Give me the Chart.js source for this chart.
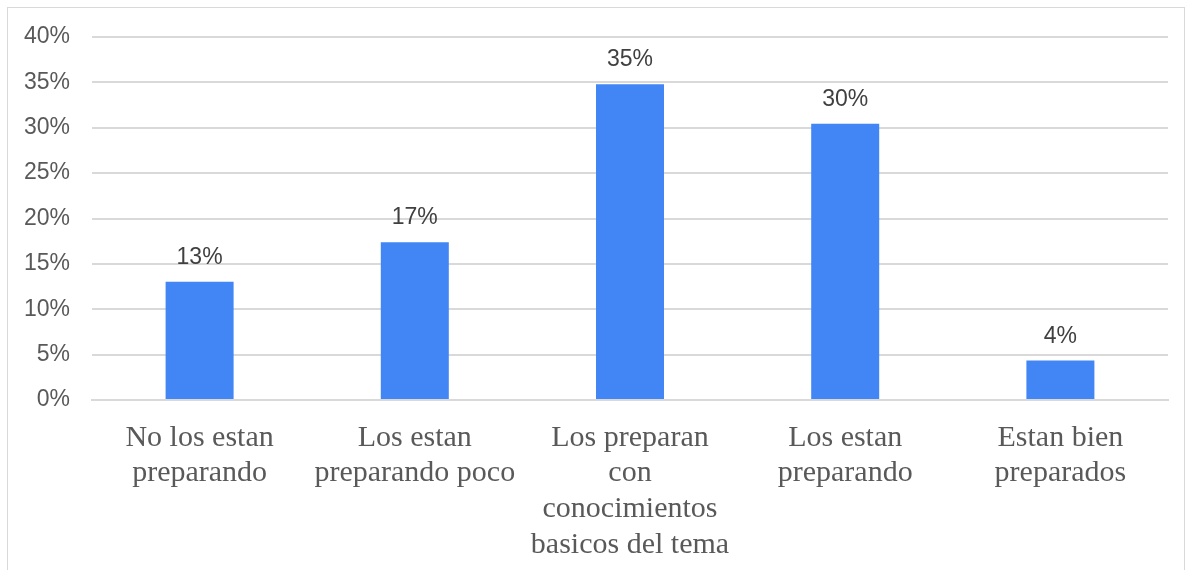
<!DOCTYPE html>
<html>
<head>
<meta charset="utf-8">
<script src="https://cdn.jsdelivr.net/npm/chart.js@4.4.1/dist/chart.umd.min.js"></script>
<style>
  html, body { margin: 0; padding: 0; background: #fff; }
  #wrap { position: absolute; left: 0; top: 0; width: 1189px; height: 570px; }
  #frame { position: absolute; left: 7px; top: 7px; width: 1178px; height: 570px;
           border: 1.5px solid #d9d9d9; border-bottom: none; box-sizing: border-box; }
</style>
</head>
<body>
<div id="wrap">
  <div id="frame"></div>
  <canvas id="chart" width="1189" height="570"></canvas>
</div>
<script>
const categories = [
  ['No los estan', 'preparando'],
  ['Los estan', 'preparando poco'],
  ['Los preparan', 'con', 'conocimientos', 'basicos del tema'],
  ['Los estan', 'preparando'],
  ['Estan bien', 'preparados']
];
const values = [13.04, 17.39, 34.78, 30.43, 4.35];
const valueLabels = ['13%', '17%', '35%', '30%', '4%'];
const yTicks = [0, 5, 10, 15, 20, 25, 30, 35, 40];

// draw the percentage above each bar
const barLabels = {
  id: 'barLabels',
  afterDatasetsDraw(chart) {
    const ctx = chart.ctx;
    const meta = chart.getDatasetMeta(0);
    ctx.save();
    ctx.font = '23px "Liberation Sans", Arial, sans-serif';
    ctx.fillStyle = '#404040';
    ctx.textAlign = 'center';
    ctx.textBaseline = 'alphabetic';
    meta.data.forEach((bar, i) => {
      ctx.fillText(valueLabels[i], bar.x, bar.y - 18);
    });
    ctx.restore();
  }
};

const ctx = document.getElementById('chart').getContext('2d');
new Chart(ctx, {
  type: 'bar',
  data: {
    labels: categories,
    datasets: [{
      data: values,
      backgroundColor: '#4285f4',
      borderWidth: 0,
      categoryPercentage: 1,
      barPercentage: 0.316
    }]
  },
  options: {
    responsive: false,
    animation: false,
    layout: { padding: { top: 37, right: 21, left: 0, bottom: 0 } },
    plugins: { legend: { display: false }, tooltip: { enabled: false } },
    scales: {
      x: {
        grid: { display: false, drawTicks: false },
        border: { display: true, color: '#d9d9d9', width: 2 },
        ticks: {
          color: '#595959',
          padding: 20,
          maxRotation: 0,
          autoSkip: false,
          font: { family: '"Liberation Serif", "Times New Roman", serif', size: 30, lineHeight: 1.19 }
        },
        afterFit(scale) { scale.height = 170; }
      },
      y: {
        min: 0,
        max: 40,
        afterBuildTicks(scale) { scale.ticks = yTicks.map(v => ({ value: v })); },
        grid: { color: '#d9d9d9', lineWidth: 2, drawTicks: false },
        border: { display: false },
        ticks: {
          color: '#595959',
          padding: 22,
          font: { family: '"Liberation Sans", Arial, sans-serif', size: 23 },
          callback: v => v + '%'
        },
        afterFit(scale) { scale.width = 92; }
      }
    }
  },
  plugins: [barLabels]
});
</script>
</body>
</html>
